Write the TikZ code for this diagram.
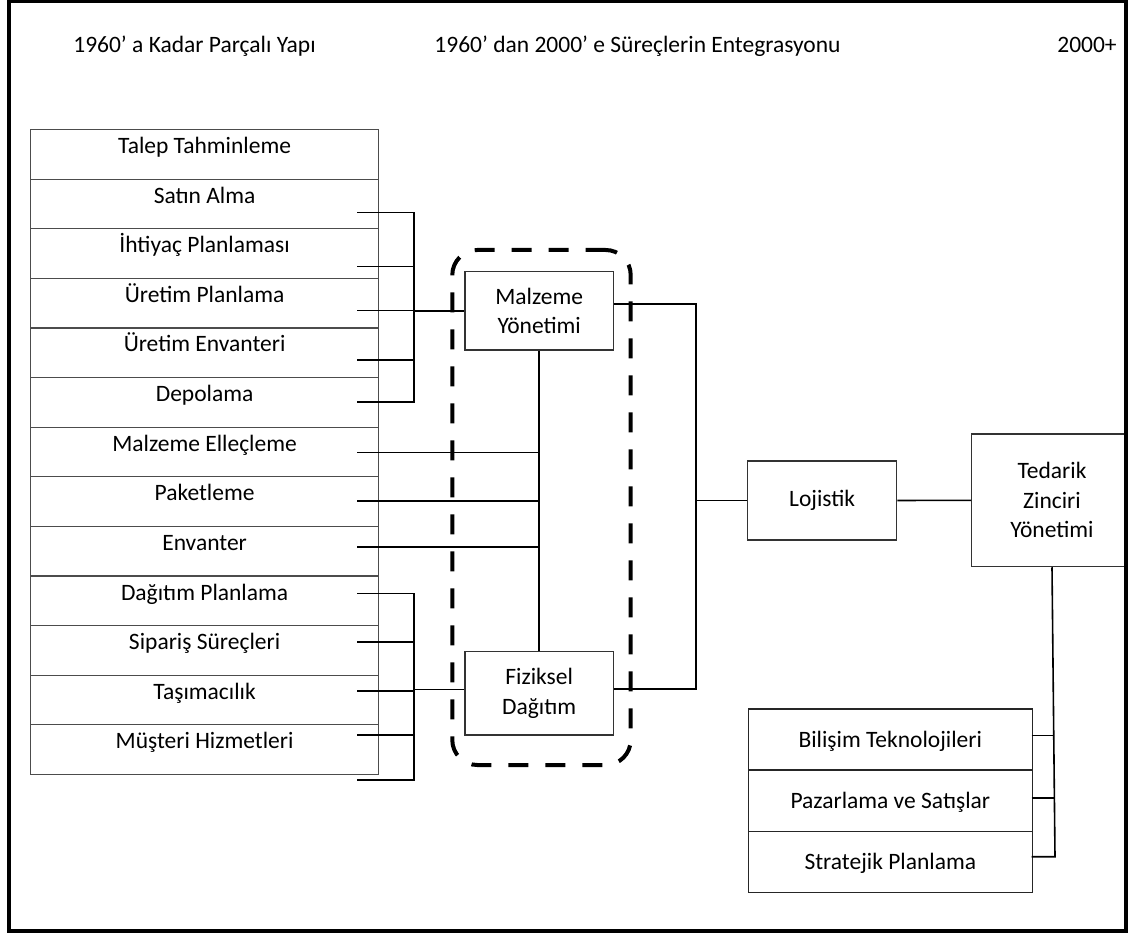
\documentclass[tikz,border=0pt]{standalone}
\usepackage{fontspec}
\setmainfont{Carlito}
\begin{document}
\begin{tikzpicture}[x=1pt,y=-1pt,
  font=\fontsize{23.5}{29.5}\selectfont,
  lbox/.style={draw=black!70, line width=1.2pt, minimum width=348pt, minimum height=49.6pt, inner sep=0pt, text height=18pt, text depth=19.6pt, anchor=north west},
  rbox/.style={draw=black!85, line width=1.2pt, minimum width=284pt, minimum height=61.1pt, inner sep=0pt, text height=18pt, text depth=2pt, anchor=north west},
  cbox/.style={draw=black!80, line width=1.2pt, inner sep=0pt, align=center},
  conn/.style={draw=black, line width=1.6pt},
  grp/.style={draw=black, line width=4pt, dash pattern=on 20pt off 17pt, rounded corners=25pt, inner sep=0pt},
  hdr/.style={anchor=base, inner sep=0pt}
]
\useasboundingbox (0,0) rectangle (1128,933);
\fill[white] (0,0) rectangle (1128,933);

% headers
\node[hdr] (h1) at (194.5,52.3) {1960’ a Kadar Parçalı Yapı};
\node[hdr] (h2) at (637.5,52.3) {1960’ dan 2000’ e Süreçlerin Entegrasyonu};
\node[hdr] (h3) at (1087,52.3) {2000+};

% left column
\node[lbox] (l1) at (30,129.0) {Talep Tahminleme};
\node[lbox] (l2) at (30,178.6) {Satın Alma};
\node[lbox] (l3) at (30,228.2) {İhtiyaç Planlaması};
\node[lbox] (l4) at (30,277.8) {Üretim Planlama};
\node[lbox] (l5) at (30,327.4) {Üretim Envanteri};
\node[lbox] (l6) at (30,377.0) {Depolama};
\node[lbox] (l7) at (30,426.6) {Malzeme Elleçleme};
\node[lbox] (l8) at (30,476.2) {Paketleme};
\node[lbox] (l9) at (30,525.8) {Envanter};
\node[lbox] (l10) at (30,575.4) {Dağıtım Planlama};
\node[lbox] (l11) at (30,625.0) {Sipariş Süreçleri};
\node[lbox] (l12) at (30,674.6) {Taşımacılık};
\node[lbox] (l13) at (30,724.2) {Müşteri Hizmetleri};

% dashed group
\node[grp, minimum width=178.4pt, minimum height=515pt] (grp) at (541.5,507.5) {};

% middle boxes
\node[cbox, minimum width=148.3pt, minimum height=78.3pt] (mal) at (539.2,310.8) {Malzeme\\Yönetimi};
\node[cbox, minimum width=148.3pt, minimum height=83.3pt] (fiz) at (539.2,693.3) {Fiziksel\\Dağıtım};

% right boxes
\node[cbox, minimum width=149pt, minimum height=79pt] (loj) at (822.2,500.5) {Lojistik};
\node[cbox, minimum width=160.6pt, minimum height=132.7pt] (ted) at (1052,500.3) {Tedarik\\Zinciri\\Yönetimi};

\node[rbox] (s1) at (747.7,708.3) {Bilişim Teknolojileri};
\node[rbox] (s2) at (747.7,769.4) {Pazarlama ve Satışlar};
\node[rbox] (s3) at (747.7,830.5) {Stratejik Planlama};

% group A connectors
\coordinate (a1) at (357,212.7);
\coordinate (a2) at (357,266.7);
\coordinate (a3) at (357,310.7);
\coordinate (a4) at (357,360);
\coordinate (a5) at (357,402);
\coordinate (ja) at (414,310.8);
\draw[conn] (a1) -| (ja) |- (a5);
\draw[conn] (a2) -- (a2 -| ja);
\draw[conn] (a3) -- (a3 -| ja);
\draw[conn] (a4) -- (a4 -| ja);
\draw[conn] (ja) -- (mal.west);

% middle bus
\coordinate (m1) at (357,452.3);
\coordinate (m2) at (357,501);
\coordinate (m3) at (357,547);
\draw[conn] (mal.south) -- (fiz.north);
\draw[conn] (m1) -- (m1 -| mal.south);
\draw[conn] (m2) -- (m2 -| mal.south);
\draw[conn] (m3) -- (m3 -| mal.south);

% group B connectors
\coordinate (b1) at (357,593.3);
\coordinate (b2) at (357,641.7);
\coordinate (b3) at (357,691);
\coordinate (b4) at (357,735);
\coordinate (b5) at (357,780);
\coordinate (jb) at (414,689.3);
\draw[conn] (b1) -| (jb) |- (b5);
\draw[conn] (b2) -- (b2 -| jb);
\draw[conn] (b3) -- (b3 -| jb);
\draw[conn] (b4) -- (b4 -| jb);
\draw[conn] (jb) -- (jb -| fiz.west);

% right bus
\coordinate (r1) at (695.7,304);
\coordinate (r2) at (695.7,689);
\draw[conn] (r1 -| mal.east) -- (r1) -- (r2) -- (r2 -| fiz.east);
\draw[conn] (r1 |- loj.west) -- (loj.west);
\draw[conn] (loj.east) -- (ted.west);

% tedarik bus
\coordinate (t1) at (1031.7,735.3);
\coordinate (t2) at (1031.7,797.7);
\coordinate (t3) at (1031.7,856.7);
\coordinate (tb) at (1055,856.7);
\draw[conn] (ted.south) -- (tb) -- (t3);
\draw[conn] (t1) -- (1054.2,735.3);
\draw[conn] (t2) -- (1054.7,797.7);

% frame
\draw[line width=4pt] (8.5,1.5) rectangle (1126,930.5);
\end{tikzpicture}
\end{document}
